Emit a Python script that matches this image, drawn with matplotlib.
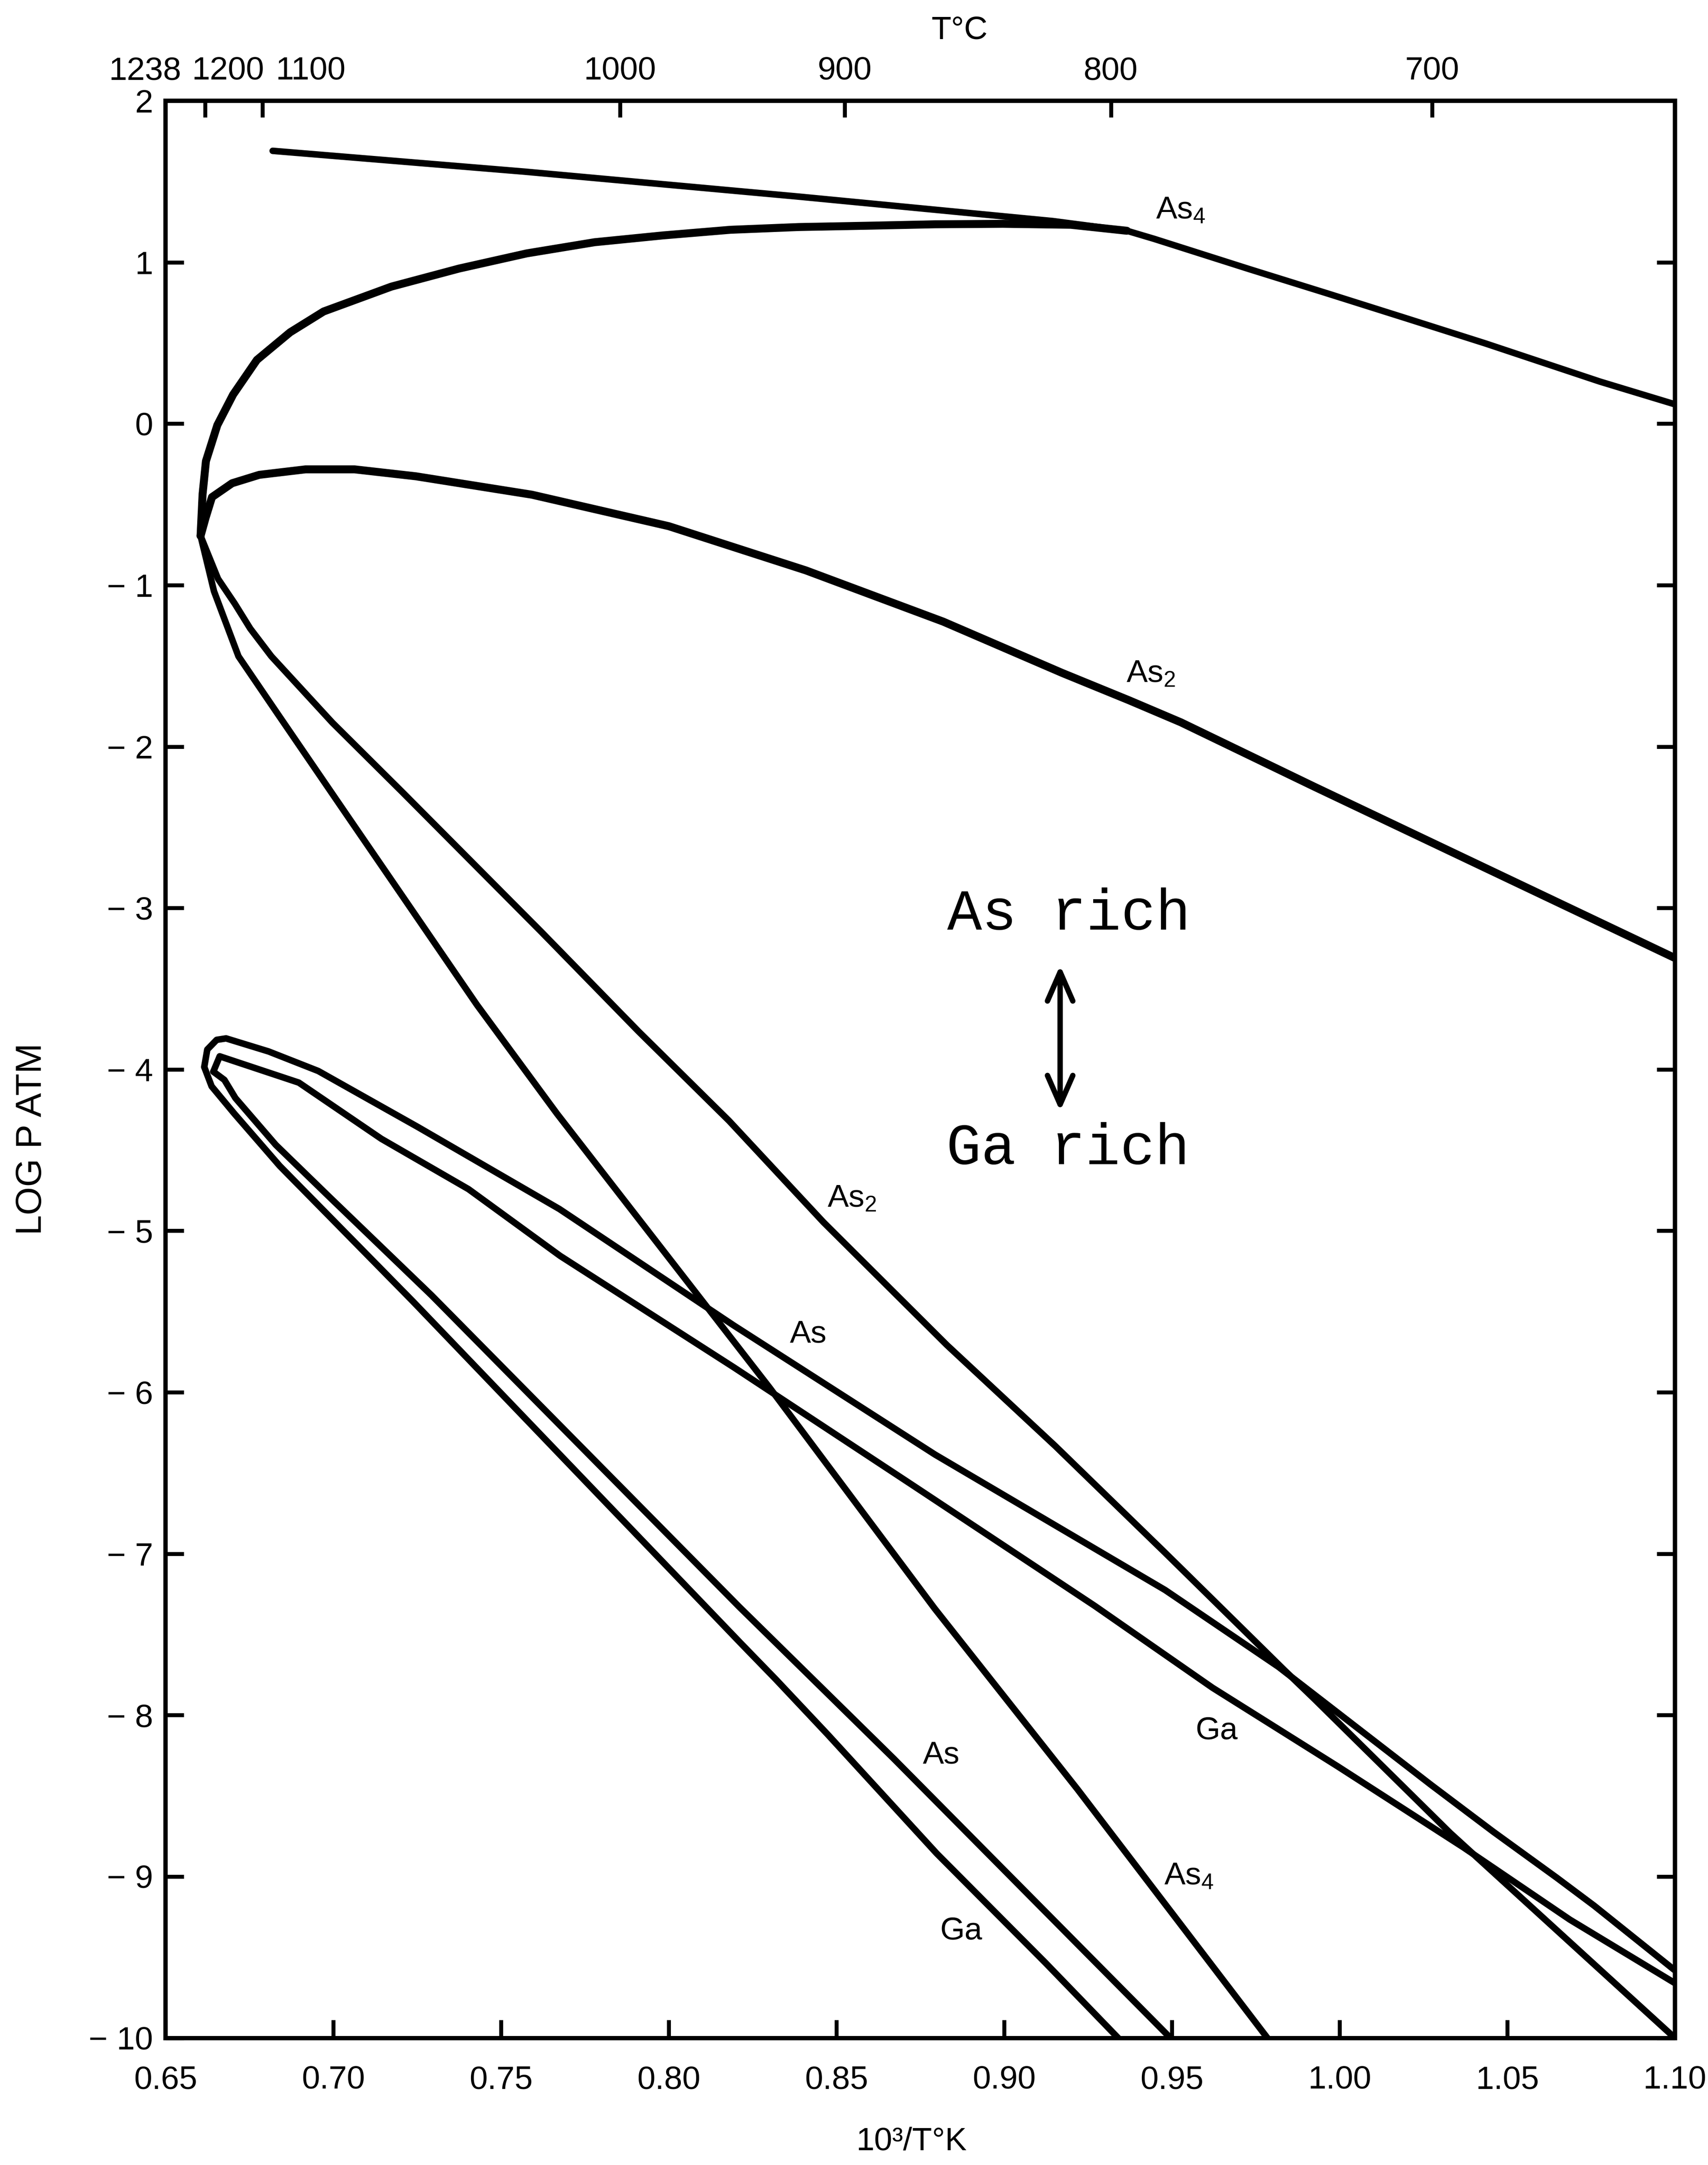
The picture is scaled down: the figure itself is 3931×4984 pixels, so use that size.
import matplotlib
matplotlib.use('Agg')
import matplotlib.pyplot as plt
from matplotlib.transforms import blended_transform_factory

plt.rcParams['font.family'] = ['Liberation Sans', 'DejaVu Sans']
plt.rcParams['mathtext.fontset'] = 'custom'
plt.rcParams['mathtext.rm'] = 'Liberation Sans'
plt.rcParams['mathtext.it'] = 'Liberation Sans:italic'
plt.rcParams['mathtext.bf'] = 'Liberation Sans:bold'

# ---------------- data (x = 10^3/T [1/K], y = log P [atm]) ----------------
# pure-arsenic As4 line, continuing as the As-rich As4 branch
as4_pure_x = [0.6819, 0.7571, 0.8385, 0.9145, 0.9366, 0.9447, 0.9730, 0.9965, 1.0200, 1.0435, 1.0776, 1.1000]
as4_pure_y = [1.690, 1.561, 1.407, 1.255, 1.195, 1.145, 0.958, 0.806, 0.652, 0.497, 0.261, 0.120]

# As4, As-rich branch of the three-phase loop
as4_asrich_x = [0.6604, 0.6610, 0.6620, 0.6654, 0.6701, 0.6772, 0.6871, 0.6971, 0.7173, 0.7375,
                0.7577, 0.7779, 0.7982, 0.8184, 0.8387, 0.8590, 0.8793, 0.8996, 0.9199, 0.9366]
as4_asrich_y = [-0.695, -0.437, -0.232, -0.009, 0.180, 0.395, 0.566, 0.695, 0.849, 0.961,
                1.055, 1.124, 1.166, 1.201, 1.218, 1.226, 1.235, 1.238, 1.232, 1.195]

# As4, Ga-rich branch
as4_garich_x = [0.6604, 0.6644, 0.6717, 0.6835, 0.7044, 0.7211, 0.7428, 0.7667, 0.8302, 0.8793, 0.9219, 0.9785]
as4_garich_y = [-0.695, -1.038, -1.441, -1.801, -2.436, -2.942, -3.600, -4.275, -5.975, -7.340, -8.460, -10.0]

# As2, As-rich branch
as2_asrich_x = [0.6604, 0.6619, 0.6638, 0.6698, 0.6779, 0.6917, 0.7063, 0.7246, 0.7592, 0.8000,
                0.8409, 0.8818, 0.9173, 0.9373, 0.9527, 0.9926, 1.0458, 1.1000]
as2_asrich_y = [-0.695, -0.583, -0.455, -0.369, -0.317, -0.283, -0.283, -0.326, -0.440, -0.635,
                -0.909, -1.226, -1.544, -1.714, -1.850, -2.250, -2.775, -3.310]

# As2, Ga-rich branch
as2_garich_x = [0.6604, 0.6656, 0.6706, 0.6752, 0.6815, 0.6997, 0.7205, 0.7620, 0.7910, 0.8180,
                0.8461, 0.8829, 0.9153, 0.9478, 0.9615, 0.9835, 0.9925, 1.0330, 1.1000]
as2_garich_y = [-0.695, -0.961, -1.115, -1.269, -1.441, -1.852, -2.281, -3.148, -3.765, -4.319,
                -4.946, -5.707, -6.334, -6.990, -7.270, -7.720, -7.900, -8.730, -10.0]

# As (monomer), upper branch
as_upper_x = [0.6615, 0.6624, 0.6652, 0.6680, 0.6807, 0.6955, 0.7252, 0.7674, 0.8193, 0.8794,
              0.9480, 0.9818, 1.0141, 1.0273, 1.0459, 1.0647, 1.0759, 1.1000]
as_upper_y = [-3.985, -3.877, -3.817, -3.808, -3.889, -4.010, -4.357, -4.865, -5.585, -6.386,
              -7.225, -7.701, -8.220, -8.432, -8.723, -9.006, -9.180, -9.581]

# As (monomer), lower branch
as_lower_x = [0.6642, 0.6675, 0.6708, 0.6828, 0.6993, 0.7173, 0.7293, 0.8210, 0.8671, 0.9496]
as_lower_y = [-4.014, -4.065, -4.178, -4.467, -4.800, -5.160, -5.400, -7.329, -8.270, -10.0]

# Ga, upper branch
ga_upper_x = [0.6642, 0.6661, 0.6897, 0.7143, 0.7403, 0.7676, 0.8195, 0.8731, 0.9270, 0.9621,
              0.9995, 1.0370, 1.0687, 1.1000]
ga_upper_y = [-4.014, -3.919, -4.082, -4.430, -4.742, -5.155, -5.847, -6.581, -7.323, -7.830,
              -8.318, -8.820, -9.267, -9.660]

# Ga, lower branch
ga_lower_x = [0.6615, 0.6637, 0.6705, 0.6840, 0.6975, 0.7125, 0.7238, 0.8213, 0.8320, 0.8474,
              0.8799, 0.9124, 0.9340]
ga_lower_y = [-3.985, -4.105, -4.275, -4.598, -4.883, -5.200, -5.439, -7.551, -7.780, -8.120,
              -8.857, -9.536, -10.0]

# axes ticks
x_ticks = [0.65, 0.70, 0.75, 0.80, 0.85, 0.90, 0.95, 1.00, 1.05, 1.10]
x_tick_labels = ['0.65', '0.70', '0.75', '0.80', '0.85', '0.90', '0.95', '1.00', '1.05', '1.10']
y_ticks = [2, 1, 0, -1, -2, -3, -4, -5, -6, -7, -8, -9, -10]
y_tick_labels = ['2', '1', '0'] + ['\u2212 %d' % k for k in range(1, 11)]

# top temperature scale (deg C)
top_tick_T = [1238, 1200, 1000, 900, 800, 700]
top_label_T = ['1238', '1200', '1100', '1000', '900', '800', '700']
top_label_x = [0.6438, 0.6685, 0.6932, 1000 / (1000 + 273.15), 1000 / (900 + 273.15),
               1000 / (800 + 273.15), 1000 / (700 + 273.15)]

# curve labels: (text, x, y)
curve_labels = [
    ('As$_4$', 0.9527, 1.32),
    ('As$_2$', 0.9438, -1.552),
    ('As$_2$', 0.8546, -4.803),
    ('As', 0.8416, -5.643),
    ('Ga', 0.9634, -8.10),
    ('As', 0.8813, -8.25),
    ('Ga', 0.8872, -9.34),
    ('As$_4$', 0.9551, -9.00),
]

# ---------------- figure ----------------
fig = plt.figure(figsize=(3931 / 300, 4984 / 300), dpi=300)
ax = fig.add_axes([0.09701, 0.05867, 0.88359, 0.89477])

thick = 4.4
thin = 3.6
style = dict(color='black', solid_capstyle='round', solid_joinstyle='round')
ax.plot(as4_pure_x, as4_pure_y, lw=thin, **style)
ax.plot(as4_asrich_x, as4_asrich_y, lw=thick, **style)
ax.plot(as4_garich_x, as4_garich_y, lw=thin, **style)
ax.plot(as2_asrich_x, as2_asrich_y, lw=thick, **style)
ax.plot(as2_garich_x, as2_garich_y, lw=thin, **style)
ax.plot(as_upper_x, as_upper_y, lw=thin, **style)
ax.plot(as_lower_x, as_lower_y, lw=thin, **style)
ax.plot(ga_upper_x, ga_upper_y, lw=thin, **style)
ax.plot(ga_lower_x, ga_lower_y, lw=thin, **style)

ax.set_xlim(0.65, 1.10)
ax.set_ylim(-10, 2)
ax.set_xticks(x_ticks)
ax.set_xticklabels(x_tick_labels)
ax.set_yticks(y_ticks)
ax.set_yticklabels(y_tick_labels)
ax.tick_params(axis='both', direction='in', length=10, width=2.2, labelsize=18,
               right=True, top=False)
ax.tick_params(axis='x', pad=15)
ax.tick_params(axis='y', pad=7)
for sp in ax.spines.values():
    sp.set_linewidth(2.4)

ax.set_xlabel('10\u00b3/T\u00b0K', fontsize=18)
ax.xaxis.label.set_va('center')
ax.xaxis.set_label_coords(0.494, -0.0535)
ax.set_ylabel('LOG P ATM', fontsize=20)
ax.yaxis.label.set_va('center')
ax.yaxis.set_label_coords(-0.0887, 0.464)

# top scale
axt = ax.twiny()
axt.set_xlim(ax.get_xlim())
axt.set_xticks([1000 / (t + 273.15) for t in top_tick_T])
axt.set_xticklabels([])
axt.tick_params(axis='x', direction='in', length=9, width=2.2)
for sp in axt.spines.values():
    sp.set_visible(False)
trans = blended_transform_factory(ax.transData, ax.transAxes)
for lab, xp in zip(top_label_T, top_label_x):
    ax.text(xp, 1.0153, lab, transform=trans, ha='center', va='center', fontsize=18, clip_on=False)
ax.text(0.526, 1.0364, 'T\u00b0C', transform=ax.transAxes, ha='center', va='center', fontsize=18)

for txt, xp, yp in curve_labels:
    ax.text(xp, yp, txt, ha='center', va='center', fontsize=17.5)

ax.text(0.9193, -3.04, 'As rich', family='Liberation Mono', fontsize=32, ha='center', va='center')
ax.text(0.9190, -4.494, 'Ga rich', family='Liberation Mono', fontsize=32, ha='center', va='center')
ax.annotate('', xy=(0.9167, -3.355), xytext=(0.9167, -4.259),
            arrowprops=dict(arrowstyle='<->,head_length=0.8,head_width=0.35', lw=3,
                            color='black', mutation_scale=20, shrinkA=0, shrinkB=0))

fig.savefig('out.png', dpi=300)
